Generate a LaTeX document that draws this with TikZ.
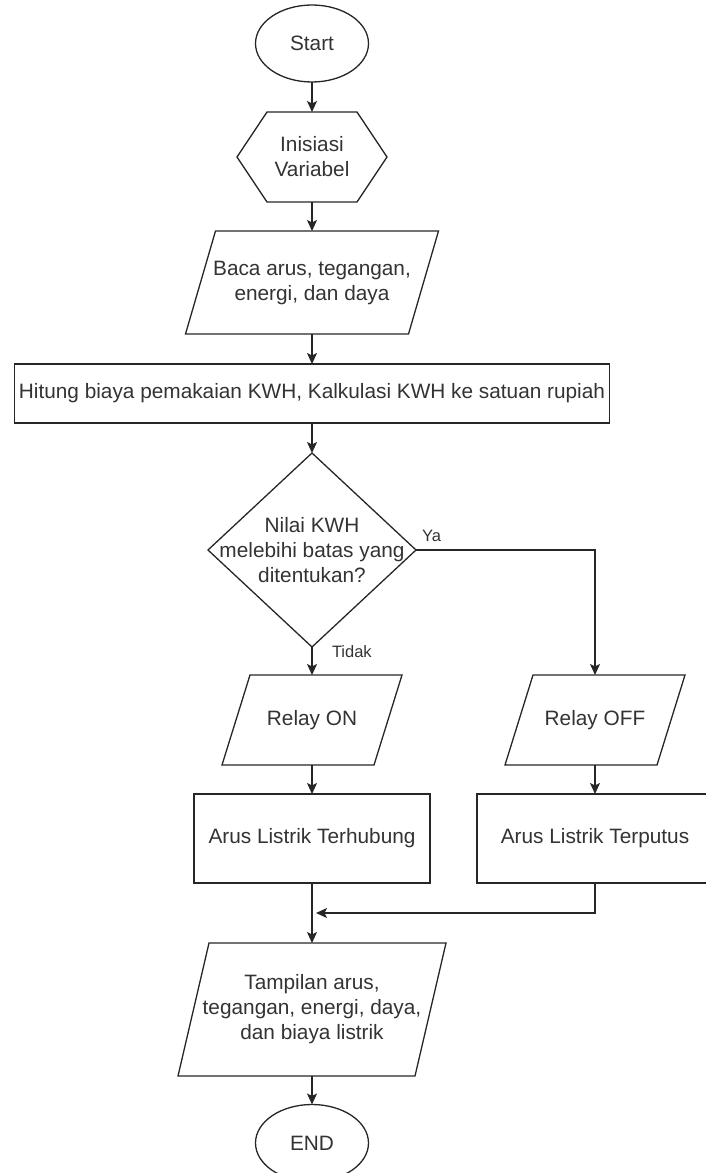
\documentclass[tikz,border=0pt]{standalone}
\usepackage{fontspec}
\setmainfont{Liberation Sans}
\usetikzlibrary{shapes.geometric,arrows.meta}
\begin{document}
\begin{tikzpicture}[x=1pt,y=-1pt,
  every node/.style={font=\fontsize{20.8}{25}\selectfont, text=black!80, align=center, inner sep=0pt, outer sep=0pt},
  ln/.style={line width=1.3pt, draw=black!85},
  arr/.style={ln,-{Stealth[length=11pt,width=10pt,inset=2.5pt]}},
  term/.style={ellipse, ln, minimum width=113pt, minimum height=77pt},
  box/.style={rectangle, ln},
  blank/.style={rectangle, draw=none},
  lbl/.style={font=\fontsize{16.5}{20}\selectfont}
]
\useasboundingbox (0,0) rectangle (706,1173);

% nodes
\node[term] (start) at (312,43.5) {Start};

\node[blank, minimum width=150pt, minimum height=90pt] (init) at (312,157) {Inisiasi\\Variabel};
\draw[ln] ([xshift=30pt]init.north west) -- ([xshift=-30pt]init.north east) -- (init.east)
  -- ([xshift=-30pt]init.south east) -- ([xshift=30pt]init.south west) -- (init.west) -- cycle;

\node[blank, minimum width=253pt, minimum height=103pt] (baca) at (312,282.5) {Baca arus, tegangan,\\energi, dan daya};
\draw[ln] ([xshift=30pt]baca.north west) -- (baca.north east) -- ([xshift=-30pt]baca.south east) -- (baca.south west) -- cycle;

\node[box, minimum width=595pt, minimum height=59pt] (hitung) at (312,393.5) {Hitung biaya pemakaian KWH, Kalkulasi KWH ke satuan rupiah};

\node[blank, minimum width=208pt, minimum height=194pt] (dec) at (312,550) {Nilai KWH\\melebihi batas yang\\ditentukan?};
\draw[ln] (dec.north) -- (dec.east) -- (dec.south) -- (dec.west) -- cycle;

\node[blank, minimum width=180pt, minimum height=90pt] (on) at (312,720) {Relay ON};
\draw[ln] ([xshift=28pt]on.north west) -- (on.north east) -- ([xshift=-28pt]on.south east) -- (on.south west) -- cycle;

\node[blank, minimum width=180pt, minimum height=90pt] (off) at (595,720) {Relay OFF};
\draw[ln] ([xshift=28pt]off.north west) -- (off.north east) -- ([xshift=-28pt]off.south east) -- (off.south west) -- cycle;

\node[box, minimum width=236pt, minimum height=89pt] (hub) at (312,838.5) {Arus Listrik Terhubung};
\node[box, minimum width=236pt, minimum height=89pt] (put) at (595,838.5) {Arus Listrik Terputus};

\coordinate (m) at (316,913);

\node[blank, minimum width=268pt, minimum height=133pt] (tam) at (312,1009.5) {Tampilan arus,\\tegangan, energi, daya,\\dan biaya listrik};
\draw[ln] ([xshift=31pt]tam.north west) -- (tam.north east) -- ([xshift=-31pt]tam.south east) -- (tam.south west) -- cycle;

\node[term] (end) at (312,1143) {END};

% connectors
\draw[arr] (start) -- (init);
\draw[arr] (init) -- (baca);
\draw[arr] (baca) -- (hitung);
\draw[arr] (hitung) -- (dec);
\draw[arr] (dec.south) -- (on.north) node[lbl, anchor=west, pos=0.18, xshift=20pt] {Tidak};
\draw[arr] (dec.east) -| (off.north) node[lbl, anchor=west, at start, xshift=6pt, yshift=14pt] {Ya};
\draw[arr] (on) -- (hub);
\draw[arr] (off) -- (put);
\draw[arr] (hub) -- (tam);
\draw[arr] (put.south) |- (m);
\draw[arr] (tam) -- (end);
\end{tikzpicture}
\end{document}
